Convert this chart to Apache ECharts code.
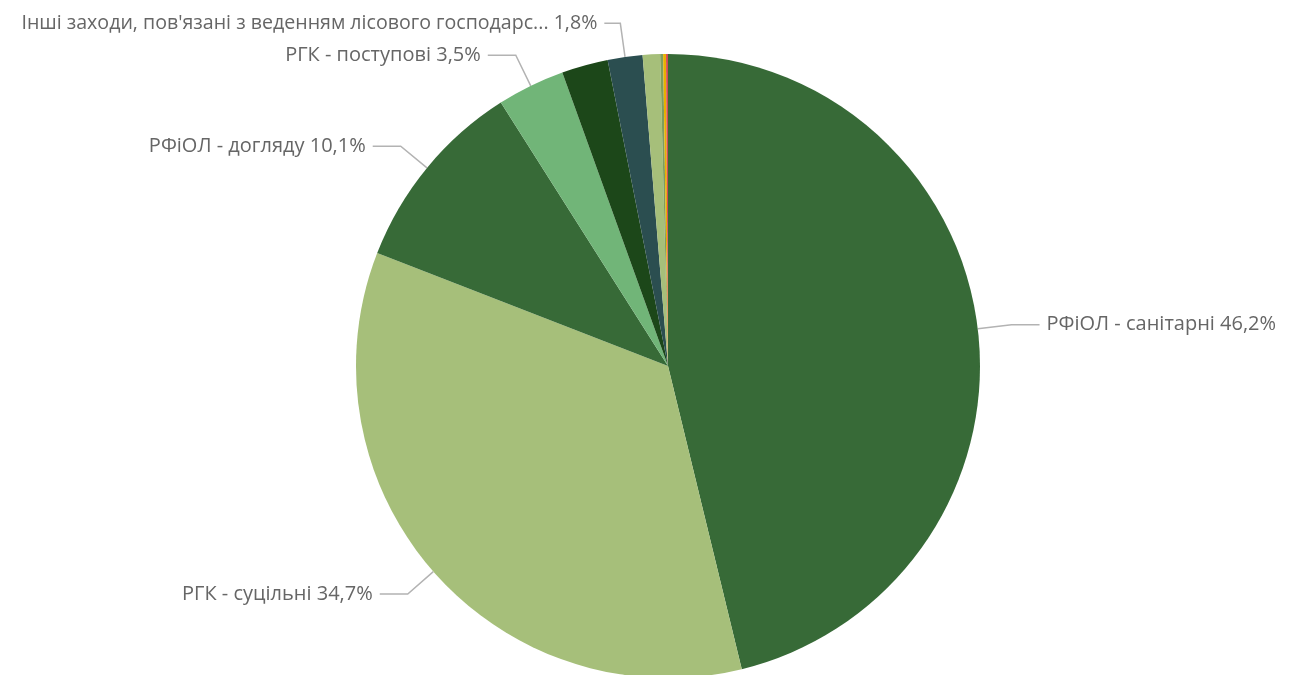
<!DOCTYPE html>
<html>
<head>
<meta charset="utf-8">
<script src="https://cdn.jsdelivr.net/npm/echarts@6/dist/echarts.min.js"></script>
<style>
  html, body { margin: 0; padding: 0; background: #ffffff; }
  #chart { width: 1296px; height: 675px; }
</style>
</head>
<body>
<div id="chart"></div>
<script>
// Share of harvest volume by type of felling, percent
const categories = [
  'РФіОЛ - санітарні',
  'РГК - суцільні',
  'РФіОЛ - догляду',
  'РГК - поступові',
  'РФіОЛ - інші',
  "Інші заходи, пов'язані з веденням лісового господарства",
  'РГК - вибіркові',
  'Лісовідновні рубки',
  'Рубки переформування',
  'Ландшафтні рубки'
];
const shares = [46.2, 34.7, 10.1, 3.5, 2.4, 1.8, 0.9, 0.15, 0.15, 0.1];
const showLabel = [true, true, true, true, false, true, false, false, false, false];
const palette = ['#376a37', '#a6bf7a', '#376a37', '#71b578', '#1c4719', '#2b4e50', '#a6bf7a', '#7f9d5c', '#e8b000', '#d24b55'];

const maxNameLen = 52;
function shortName(name) {
  return name.length > maxNameLen ? name.slice(0, maxNameLen) + '...' : name;
}

const data = categories.map((name, i) => {
  const long = name.length > maxNameLen;
  return {
    name: name,
    value: shares[i],
    itemStyle: { color: palette[i] },
    label: long ? { show: showLabel[i], fontSize: 19.6 } : { show: showLabel[i] },
    labelLine: long ? { show: showLabel[i], length2: 16 } : { show: showLabel[i] }
  };
});

const chart = echarts.init(document.getElementById('chart'));
chart.setOption({
  animation: false,
  series: [{
    type: 'pie',
    center: [668, 366],
    radius: 312,
    startAngle: 90,
    clockwise: true,
    data: data,
    label: {
      position: 'outside',
      color: '#666666',
      fontFamily: 'Open Sans',
      fontSize: 20,
      bleedMargin: 0,
      overflow: 'none',
      distanceToLabelLine: 7,
      formatter: p => shortName(p.name) + ' ' + p.value.toFixed(1).replace('.', ',') + '%'
    },
    labelLine: {
      length: 34,
      length2: 28,
      smooth: false,
      lineStyle: { color: '#b3b3b3', width: 1.5 }
    }
  }]
});
</script>
</body>
</html>
